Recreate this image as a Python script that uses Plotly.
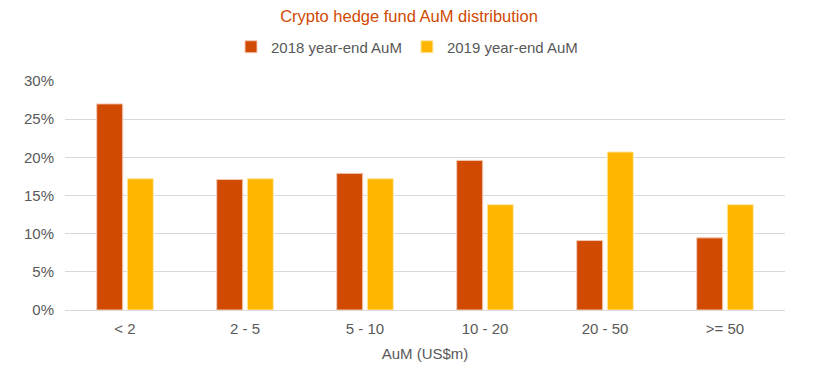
import plotly.graph_objects as go

categories = ["< 2", "2 - 5", "5 - 10", "10 - 20", "20 - 50", ">= 50"]
aum_2018 = [27.0, 17.1, 17.9, 19.6, 9.1, 9.45]
aum_2019 = [17.2, 17.2, 17.2, 13.8, 20.7, 13.8]
y_ticks = [0, 5, 10, 15, 20, 25, 30]
y_tick_labels = ["0%", "5%", "10%", "15%", "20%", "25%", "30%"]

FONT = "Liberation Sans, Arial, sans-serif"
GRAY = "#595959"

fig = go.Figure()
fig.add_trace(go.Bar(
    x=categories, y=aum_2018, name="2018 year-end AuM",
    marker=dict(color="#D04A02", line=dict(color="#F4C9B4", width=1)),
))
fig.add_trace(go.Bar(
    x=categories, y=aum_2019, name="2019 year-end AuM",
    marker=dict(color="#FFB600", line=dict(color="#FFE9A8", width=1)),
))

fig.update_layout(
    width=832, height=372,
    margin=dict(l=65, r=47, t=81, b=62, autoexpand=False),
    paper_bgcolor="white", plot_bgcolor="white",
    font=dict(family=FONT, size=15, color=GRAY),
    title=dict(text="Crypto hedge fund AuM distribution", x=409 / 832, xanchor="center",
               xref="container",
               y=1 - 16 / 372, yanchor="middle", yref="container",
               font=dict(family=FONT, size=16.5, color="#D04A02")),
    legend=dict(orientation="h", x=407 / 832, xanchor="center", y=1 - 47 / 372, yanchor="middle",
                xref="container", yref="container",
                font=dict(family=FONT, size=15, color=GRAY),
                itemwidth=30, traceorder="normal"),
    bargap=0.49, bargroupgap=0.15, barmode="group",
    xaxis=dict(title=dict(text="AuM (US$m)", font=dict(size=15, color=GRAY), standoff=12),
               showgrid=False, showline=True, linecolor="#D9D9D9", linewidth=1,
               tickfont=dict(size=15, color=GRAY), ticks="", ticklabelstandoff=5,
               automargin=False),
    yaxis=dict(range=[0, 30], tickvals=y_ticks, ticktext=y_tick_labels,
               showgrid=True, gridcolor="#D9D9D9", gridwidth=1, zeroline=False,
               tickfont=dict(size=15, color=GRAY), ticklabelstandoff=10,
               automargin=False),
)

fig.write_html("out.html", config={"displayModeBar": False},
               post_script="document.body.style.margin='0';")
